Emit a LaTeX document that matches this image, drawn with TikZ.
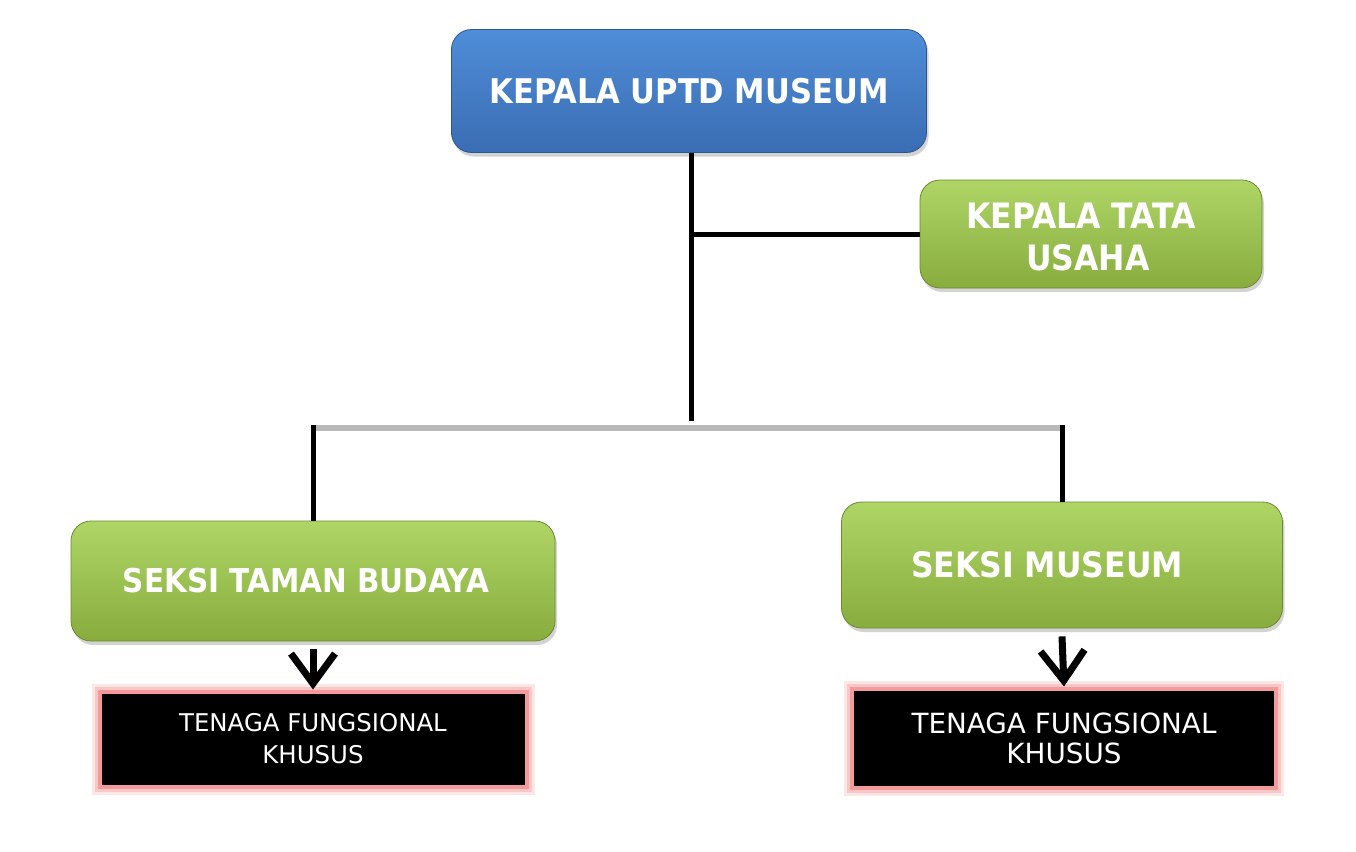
\documentclass[tikz,border=0pt]{standalone}
\usepackage{fontspec}
\setmainfont{DejaVu Sans}
\newfontfamily\condfont{DejaVu Sans Condensed}
\usetikzlibrary{arrows.meta,shadows}

\definecolor{bluetop}{HTML}{4F8DD8}
\definecolor{bluebot}{HTML}{3A6DB3}
\definecolor{greentop}{HTML}{AED566}
\definecolor{greenbot}{HTML}{88AD3E}
\definecolor{glow}{HTML}{F49A9A}

\tikzset{
	headbox/.style={rounded corners=10pt, top color=bluetop, bottom color=bluebot,
		draw=bluebot!80!black, line width=0.4pt,
		drop shadow={shadow xshift=1pt, shadow yshift=-2pt, opacity=0.35},
		text=white, font=\condfont\bfseries\fontsize{17}{21}\selectfont, align=center},
	sectbox/.style={rounded corners=10pt, top color=greentop, bottom color=greenbot,
		draw=greenbot!80!black, line width=0.4pt,
		drop shadow={shadow xshift=1pt, shadow yshift=-2pt, opacity=0.35},
		text=white, font=\condfont\bfseries\fontsize{16.4}{21}\selectfont, align=center},
	staffbox/.style={fill=black, preaction={draw=glow!25, line width=8pt},
		preaction={draw=glow!55, line width=5pt},
		draw=glow, line width=2pt, text=white, align=center},
	link/.style={line width=2.5pt, black},
	down/.style={line width=3.5pt, -{Straight Barb[length=15pt, width=22pt]}}
}

\begin{document}
\begin{tikzpicture}[x=0.5pt, y=-0.5pt]
	\useasboundingbox (0,0) rectangle (1356,852);
	
	\node[headbox, minimum width=237.5pt, minimum height=61.5pt] (kepala) at (689,91) {KEPALA UPTD MUSEUM};
	\node[sectbox, minimum width=171pt, minimum height=54pt, font=\condfont\bfseries\fontsize{17.5}{21}\selectfont] (tatausaha) at (1091,234)
		{\hspace*{-10pt}\raisebox{-3.5pt}[\height][\depth]{\begin{tabular}{c}KEPALA TATA\\\hspace*{7pt}USAHA\end{tabular}}};
	\node[sectbox, minimum width=242pt, minimum height=60pt] (taman) at (313,581) {\hspace*{-7pt}SEKSI TAMAN BUDAYA};
	\node[sectbox, minimum width=220.5pt, minimum height=63pt, font=\condfont\bfseries\fontsize{17.5}{21}\selectfont] (museum) at (1062,565) {SEKSI MUSEUM\hspace*{15pt}};
	
	\node[staffbox, minimum width=213.5pt, minimum height=47.5pt, font=\fontsize{12.2}{16}\selectfont] (fungsional1) at (313,739)
		{TENAGA FUNGSIONAL\\KHUSUS};
	\node[staffbox, minimum width=212pt, minimum height=49.5pt, font=\fontsize{13.9}{15}\selectfont] (fungsional2) at (1064,738)
		{TENAGA FUNGSIONAL\\KHUSUS};
	
	% connectors
	\coordinate (split) at (691,421);
	\coordinate (barleft) at (313,425);
	\coordinate (barright) at (1062,425);
	\draw[link] (kepala.south -| split) -- (split);
	\draw[link] (split |- tatausaha.west) -- (tatausaha.west);
	\draw[line width=3pt, gray!55] ([yshift=-1.5pt]barleft) -- ([yshift=-1.5pt]barright);
	\draw[link] (barleft) -- (taman.north);
	\draw[link] (barright) -- (museum.north);
	
	\draw[down] ([yshift=-4pt]taman.south) -- (fungsional1.north);
	\draw[down] ([yshift=-4pt]museum.south) -- (fungsional2.north);
\end{tikzpicture}
\end{document}
